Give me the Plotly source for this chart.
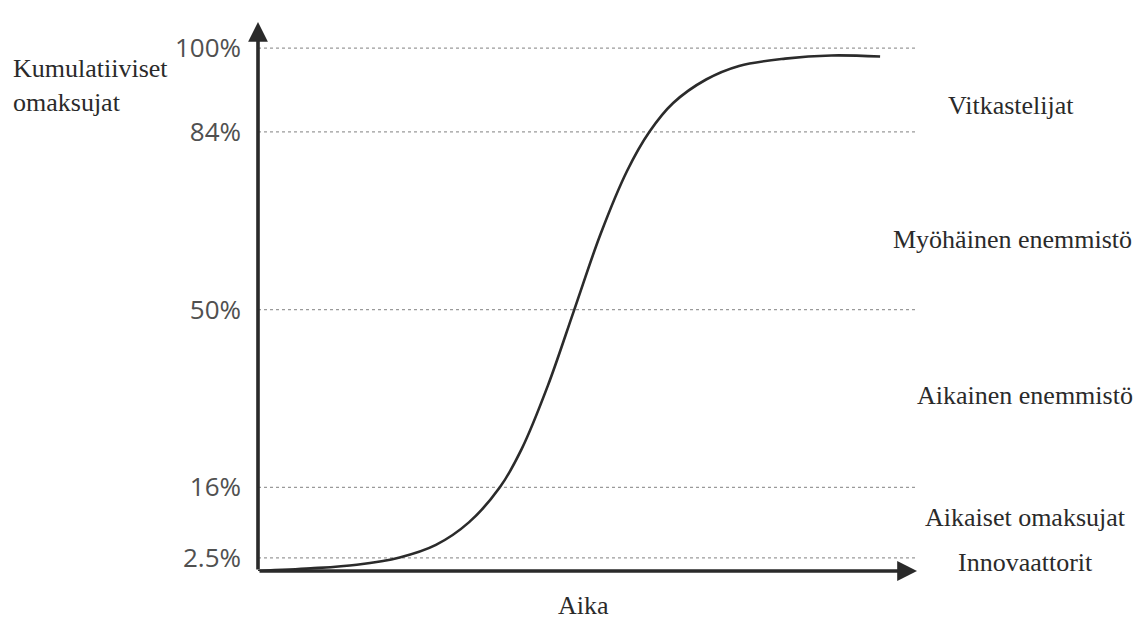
import plotly.graph_objects as go

# Adoption levels (cumulative %) and their tick labels
levels = [2.5, 16, 50, 84, 100]
level_labels = ["2.5%", "16%", "50%", "84%", "100%"]

# Adopter categories (right-hand labels), bottom to top
categories = ["Innovaattorit", "Aikaiset omaksujat", "Aikainen enemmistö",
              "Myöhäinen enemmistö", "Vitkastelijat"]

# S-curve: time (arbitrary units) vs cumulative adopters (%)
time = [0, 8, 15, 21.5, 27, 32, 36.7, 40, 44, 48, 52, 56, 59.4, 63, 68, 73, 80, 87, 94.4]
adopters = [0, 0.5, 1.2, 2.6, 5.0, 9.3, 16, 23.3, 35.5, 50, 64.5, 76.5, 84, 89.5, 94,
            96.6, 98.0, 98.6, 98.4]

W, H = 1139, 619
L, R, T, B = 258, 222, 22, 48
pw, ph = W - L - R, H - T - B

def px(x):
    return (x - L) / pw

def py(y):
    return (H - B - y) / ph

fig = go.Figure()
fig.add_trace(go.Scatter(x=time, y=adopters, mode="lines",
                         line=dict(color="#2b2b2b", width=2.6, shape="spline", smoothing=1.0),
                         hoverinfo="skip", showlegend=False))

for lv in levels:
    fig.add_shape(type="line", xref="x", yref="y", x0=0, x1=100, y0=lv, y1=lv,
                  line=dict(color="#9a9a9a", width=1.3, dash="dot"), layer="below")

serif = "Liberation Serif"
# category labels on the right
cat_pos = [(1025, 562), (1025, 517), (1025, 395), (1012, 240), (1011, 105)]
for name, (cx, cy) in zip(categories, cat_pos):
    fig.add_annotation(text=name, xref="paper", yref="paper", x=px(cx), y=py(cy),
                       xanchor="center", yanchor="middle", showarrow=False,
                       font=dict(family=serif, size=26, color="#2a2a2a"))

# axis title
fig.add_annotation(text="Kumulatiiviset<br>omaksujat", xref="paper", yref="paper",
                   x=px(11), y=py(85), xanchor="left", yanchor="middle", align="left",
                   showarrow=False, font=dict(family=serif, size=26, color="#2a2a2a"))
fig.add_annotation(text="Aika", xref="paper", yref="paper", x=px(583), y=py(605),
                   xanchor="center", yanchor="middle", showarrow=False,
                   font=dict(family=serif, size=26, color="#2a2a2a"))

# axis arrows
fig.add_annotation(x=1.0, y=0, xref="paper", yref="paper", ax=-pw, ay=0, axref="pixel",
                   ayref="pixel", showarrow=True, arrowhead=2, arrowsize=1.1, arrowwidth=3.6,
                   arrowcolor="#2a2a2a", text="")
fig.add_annotation(x=0, y=1.0, xref="paper", yref="paper", ax=0, ay=ph, axref="pixel",
                   ayref="pixel", showarrow=True, arrowhead=2, arrowsize=1.1, arrowwidth=3.6,
                   arrowcolor="#2a2a2a", text="")

fig.update_layout(
    width=W, height=H, margin=dict(l=L, r=R, t=T, b=B),
    paper_bgcolor="white", plot_bgcolor="white",
    xaxis=dict(range=[0, 100], showgrid=False, zeroline=False, showline=False,
               showticklabels=False, ticks=""),
    yaxis=dict(range=[0, 105], showgrid=False, zeroline=False, showline=False,
               tickvals=levels, ticktext=level_labels, ticks="", ticklabelstandoff=16,
               tickfont=dict(family="Open Sans", size=26, color="#505050")),
)

fig.write_html("out.html", config={"displayModeBar": False},
               post_script="document.body.style.margin='0px';")
